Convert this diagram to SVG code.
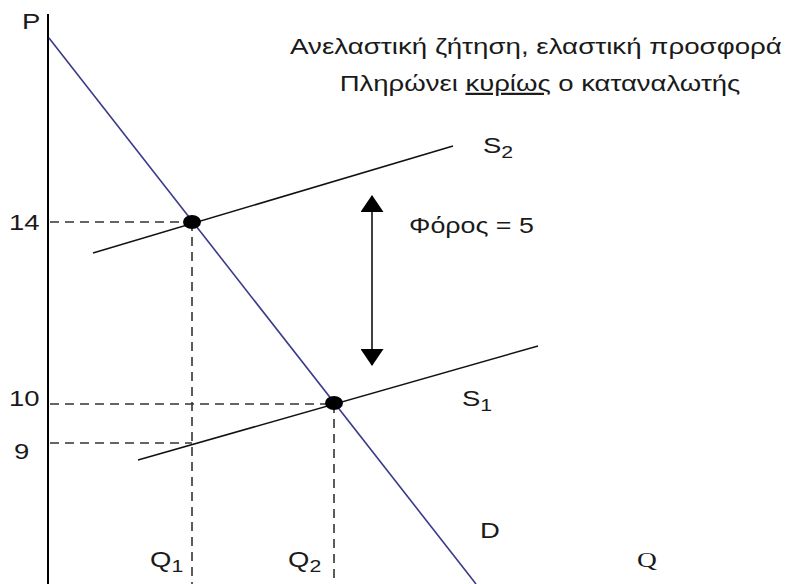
<svg xmlns="http://www.w3.org/2000/svg" width="787" height="584" viewBox="0 0 787 584">
<defs>
<style>
text{font-family:"Liberation Sans",Arial,sans-serif;fill:#1a1a1a;font-size:22px;}
.sub{font-size:17px;}
.serif{font-family:"Liberation Serif","Times New Roman",serif;}
.dash{stroke:#333;stroke-width:1.6;stroke-dasharray:9 6;fill:none;}
.sup{stroke:#111;stroke-width:1.5;fill:none;}
.dem{stroke:#3a3a8c;stroke-width:1.6;fill:none;}
.dot{fill:#000;}
</style>
<marker id="ah" viewBox="0 0 17 23" refX="16" refY="11.5" markerWidth="17" markerHeight="23" markerUnits="userSpaceOnUse" orient="auto-start-reverse">
<path d="M0,0 L17,11.5 L0,23 Z" fill="#000"/>
</marker>
</defs>
<rect width="787" height="584" fill="#fff"/>
<g id="axis">
<line x1="48" y1="14" x2="48" y2="584" stroke="#000" stroke-width="2"/>
<text transform="translate(22,29) scale(1.25,1)">P</text>
<text class="serif" transform="translate(637,567) scale(1.25,1)">Q</text>
</g>
<g id="connectors">
<line class="dash" x1="50" y1="222" x2="192" y2="222"/>
<line class="dash" x1="50" y1="404" x2="334" y2="404"/>
<line class="dash" x1="50" y1="443" x2="192" y2="443"/>
<line class="dash" x1="192" y1="222" x2="192" y2="584"/>
<line class="dash" x1="334" y1="404" x2="334" y2="584"/>
<line x1="372" y1="196" x2="372" y2="365" stroke="#000" stroke-width="1.5" marker-start="url(#ah)" marker-end="url(#ah)"/>
</g>
<g id="demand">
<line class="dem" x1="49" y1="38" x2="476" y2="584"/>
<text transform="translate(480,538) scale(1.25,1)">D</text>
</g>
<g id="supply2">
<line class="sup" x1="93" y1="253" x2="453" y2="146"/>
<text transform="translate(483,153) scale(1.25,1)">S<tspan class="sub" dy="5">2</tspan></text>
</g>
<g id="supply1">
<line class="sup" x1="138" y1="460" x2="538" y2="346"/>
<text transform="translate(462,406) scale(1.25,1)">S<tspan class="sub" dy="5">1</tspan></text>
</g>
<g id="eq1"><ellipse class="dot" cx="192" cy="222" rx="9" ry="7"/></g>
<g id="eq2"><ellipse class="dot" cx="334" cy="403" rx="9" ry="7"/></g>
<g id="ticks">
<text transform="translate(9,230) scale(1.25,1)">14</text>
<text transform="translate(9,406) scale(1.25,1)">10</text>
<text transform="translate(14,459) scale(1.25,1)">9</text>
<text transform="translate(150,567) scale(1.25,1)">Q<tspan class="sub" dy="5">1</tspan></text>
<text transform="translate(288,567) scale(1.25,1)">Q<tspan class="sub" dy="5">2</tspan></text>
</g>
<g id="tax">
<text transform="translate(409,233) scale(1.22,1)">Φόρος = 5</text>
</g>
<g id="title">
<text transform="translate(536,54) scale(1.26,1)" text-anchor="middle">Ανελαστική ζήτηση, ελαστική προσφορά</text>
<text transform="translate(540,91) scale(1.25,1)" text-anchor="middle">Πληρώνει <tspan text-decoration="underline">κυρίως</tspan> ο καταναλωτής</text>
</g>
</svg>
